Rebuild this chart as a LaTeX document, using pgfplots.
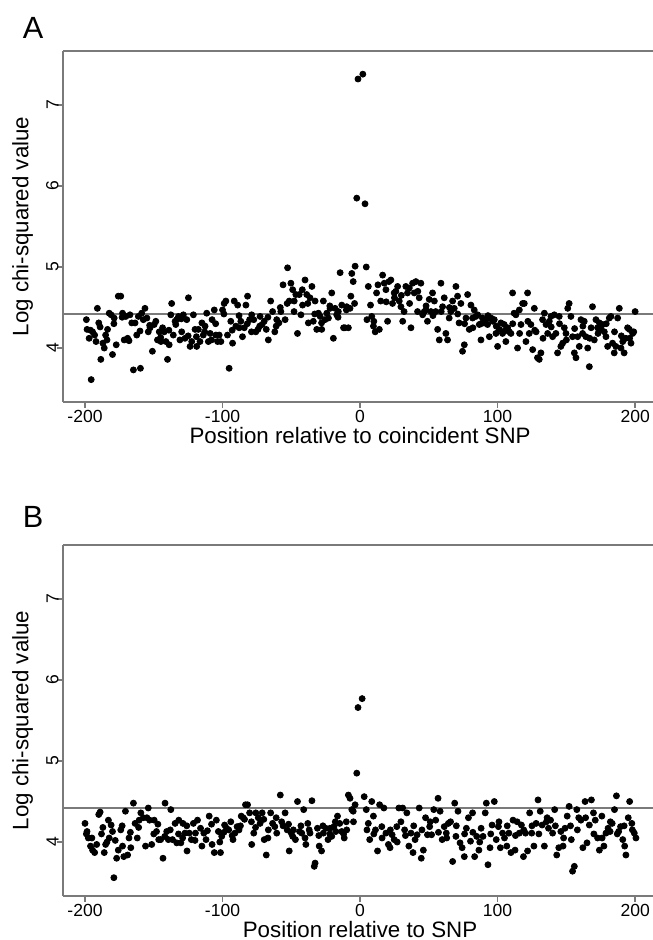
\documentclass[border=0pt]{standalone}
\usepackage{fontspec}
\setmainfont{Liberation Sans}
\usepackage{pgfplots}
\pgfplotsset{compat=1.18}

\definecolor{axgray}{HTML}{7A7A7A}

\pgfplotsset{
  panel/.style={
    anchor=south west,
    scale only axis,
    width=295bp, height=175.5bp,
    xmin=-216, xmax=213,
    ymin=3.334, ymax=7.666,
    axis x line=box, axis y line=left,
    axis line style={-, draw=axgray, line width=1bp},
    xtick={-200,-100,0,100,200},
    ytick={4,5,6,7},
    xtick pos=bottom, ytick pos=left,
    tick align=outside,
    major tick length=3bp,
    tick style={draw=axgray, line width=0.8bp},
    /pgf/number format/assume math mode=true,
    ticklabel style={font=\fontsize{8.8}{10}\selectfont},
    yticklabel style={xshift=2.5bp, rotate=90, anchor=south, inner sep=1.5bp},
    xticklabel style={inner sep=1bp},
    label style={font=\fontsize{11.2}{12}\selectfont},
    ylabel style={at={(axis description cs:-0.039,0.5)}, anchor=south, rotate=0},
    clip=true,
  },
  dots/.style={only marks, mark=*, mark size=1.5bp, draw=black, fill=black},
  refline/.style={no marks, draw=axgray, line width=1bp},
}

\begin{document}
\begin{tikzpicture}
\useasboundingbox (0,0) rectangle (326.5bp,470bp);

% panel A
\begin{axis}[panel, at={(31.5bp,269bp)},
  xlabel={Position relative to coincident SNP},
  ylabel={Log chi-squared value},
  xlabel style={at={(axis description cs:0.5035,0)}, anchor=north, yshift=-9bp}]
\addplot[refline] coordinates {(-216,4.42) (216,4.42)};
\addplot[dots] coordinates {
(-199,4.35) (-198.5,4.23) (-197,4.12) (-195.5,3.61) (-194.5,4.2) (-193,4.16) (-192,4.08) (-191,4.49) (-190,4.31) (-188.5,3.86)
(-187,4.06) (-186,4.0) (-185,4.16) (-183.6,4.23) (-182.4,4.43) (-181,4.41) (-180,3.92) (-178.8,4.37) (-177.3,4.04) (-175.8,4.64)
(-174,4.64) (-172.7,4.43) (-171.5,4.1) (-170.3,4.39) (-169,4.12) (-167.3,4.41) (-166,4.31) (-164.8,3.73) (-163.6,4.31) (-162.4,4.16)
(-161.2,4.39) (-159.7,3.75) (-158.8,4.43) (-157.6,4.35) (-156.4,4.49) (-155,4.37) (-154,4.2) (-152.7,4.25) (-151,3.96) (-149.7,4.29)
(-148.5,4.33) (-147.3,4.1) (-146,4.2) (-144.8,4.08) (-143.6,4.25) (-142.4,4.2) (-141.2,4.08) (-140,3.86) (-138.8,4.04) (-137.6,4.41)
(-137,4.55) (-135.8,4.16) (-134.5,4.33) (-133.3,4.35) (-132,4.39) (-131,4.1) (-129.7,4.2) (-128.5,4.41) (-127.3,4.12) (-126,4.35)
(-124.8,4.62) (-123.6,4.02) (-122.4,4.08) (-121.2,4.41) (-120,4.23) (-118.8,4.02) (-117.6,4.23) (-116.4,4.08) (-115,4.31) (-114,4.16)
(-112.7,4.27) (-111.5,4.43) (-110.3,4.08) (-109,4.18) (-107.6,4.35) (-106,4.47) (-104.8,4.16) (-103.6,4.08) (-102.4,4.16) (-101.2,4.08)
(-100,4.47) (-98.8,4.55) (-97.6,4.58) (-96.4,4.16) (-95.2,3.75) (-94,4.33) (-92.7,4.06) (-91.5,4.58) (-90.3,4.27) (-89,4.53)
(-87.9,4.25) (-86.7,4.33) (-85.5,4.14) (-84.2,4.25) (-83,4.53) (-81.8,4.64) (-80.3,4.35) (-78.8,4.41) (-77.3,4.35) (-75.8,4.2)
(-74.2,4.23) (-72.7,4.39) (-71.2,4.29) (-69.7,4.33) (-68.2,4.23) (-66.7,4.1) (-65,4.58) (-63.6,4.45) (-62,4.2) (-60.6,4.35)
(-59,4.31) (-57.6,4.45) (-56,4.78) (-54.5,4.35) (-52.7,4.99) (-51.5,4.58) (-50.3,4.8) (-49,4.72) (-47.9,4.58) (-46.7,4.66)
(-45.5,4.18) (-44.2,4.66) (-43,4.41) (-41.8,4.53) (-40,4.84) (-38.8,4.66) (-37.6,4.31) (-36.4,4.62) (-35,4.76) (-34,4.33)
(-32.7,4.58) (-31.5,4.23) (-30.3,4.43) (-29,4.39) (-27.9,4.23) (-26.7,4.58) (-25.5,4.35) (-24.2,4.43) (-23,4.37) (-21.8,4.49)
(-20.6,4.68) (-19.4,4.12) (-18.2,4.49) (-17,4.41) (-15.8,4.45) (-14.5,4.93) (-13.3,4.53) (-12,4.25) (-11,4.25) (-9.7,4.51)
(-8.5,4.25) (-7.3,4.49) (-6.7,4.64) (-6,4.92) (-5,4.82) (-3.6,5.01) (-2.4,5.85) (-1.5,7.32) (2,7.38) (3.6,5.78)
(4.5,5.0) (6,4.76) (7.6,4.53) (8.5,4.39) (9.7,4.27) (11,4.2) (12,4.68) (13,4.78) (14,4.23) (15,4.58)
(16.4,4.9) (17.6,4.8) (18.8,4.72) (20,4.33) (21,4.82) (22.4,4.84) (23.6,4.55) (24.8,4.68) (26,4.7) (27.3,4.76)
(28.5,4.58) (29.7,4.51) (31,4.33) (32,4.45) (33.3,4.76) (34.5,4.68) (35.8,4.74) (37,4.25) (38.2,4.8) (39.4,4.68)
(40.6,4.82) (41.8,4.45) (43,4.62) (44.2,4.8) (45.5,4.41) (46.7,4.45) (47.9,4.47) (49,4.33) (50.3,4.6) (51.5,4.45)
(52.7,4.68) (54,4.58) (55,4.45) (56.4,4.23) (57.6,4.1) (58.8,4.8) (60,4.51) (61.2,4.62) (62.4,4.18) (63.6,4.1)
(64.8,4.37) (66,4.45) (67.3,4.58) (68.5,4.49) (69.7,4.76) (70.9,4.64) (72,4.31) (73.3,4.55) (74.5,3.96) (75.8,4.04)
(77,4.37) (78.2,4.66) (79.4,4.23) (80.6,4.53) (81.8,4.37) (83,4.47) (84.2,4.39) (85.5,4.41) (86.7,4.29) (87.9,4.1)
(89,4.37) (90.3,4.31) (91.5,4.35) (92.7,4.29) (94,4.14) (95.2,4.37) (96.4,4.33) (97.6,4.35) (98.8,4.18) (100,4.02)
(101.2,4.23) (102.4,4.31) (103.6,4.18) (104.8,4.29) (106,4.08) (107.3,4.25) (108.5,4.2) (109.7,4.18) (110.9,4.68) (112,4.43)
(113.3,4.41) (114.5,4.0) (115.8,4.47) (117,4.29) (118.2,4.55) (119.4,4.55) (120.6,4.08) (121.8,4.68) (123,4.18) (124.2,4.29)
(125.5,3.98) (126.7,4.49) (128,4.2) (129,3.88) (130.3,3.86) (131.5,3.94) (132.7,4.35) (134,4.43) (135.2,4.29) (136.4,4.18)
(137.6,4.33) (138.8,4.39) (140,4.14) (141.2,4.41) (142.4,4.18) (143.6,3.94) (144.8,4.39) (146,4.02) (147.3,4.06) (148.5,4.25)
(149.7,4.18) (151,4.49) (152,4.55) (153.3,4.39) (154.5,4.14) (155.8,3.94) (157,3.88) (158.2,4.14) (159.4,4.02) (160.6,4.35)
(161.8,4.18) (163,4.33) (164.2,4.14) (165.5,4.0) (166.7,3.77) (168,4.25) (169,4.51) (170.3,4.1) (171.5,4.35) (172.7,4.25)
(174,4.31) (175.2,4.23) (176.4,4.29) (177.6,4.2) (178.8,4.14) (180,4.02) (181.2,4.37) (182.4,4.39) (183.6,4.06) (184.8,3.94)
(186,4.02) (187.3,4.37) (188.5,4.49) (189.7,4.0) (191,4.08) (192,3.94) (193.3,4.12) (194.5,4.25) (195.8,4.23) (197,4.06)
(198.2,4.18) (200,4.45)
(-196,4.22) (-189,4.26) (-184,4.1) (-179,4.3) (-173,4.38) (-168,4.09) (-160,4.21) (-153,4.28) (-145,4.13) (-139,4.22)
(-134,4.29) (-130,4.36) (-125,4.15) (-119,4.14) (-113,4.2) (-108,4.1) (-105,4.3) (-99,4.42) (-93,4.22) (-88,4.4)
(-82,4.3) (-79,4.2) (-73,4.27) (-67,4.38) (-61,4.27) (-58,4.5) (-53,4.55) (-48,4.45) (-42,4.72) (-38,4.55)
(-33,4.42) (-28,4.31) (-22,4.52) (-16,4.38) (-10,4.47) (-4,4.55) (5,4.35) (10,4.33) (19,4.57) (25,4.62)
(30,4.65) (36,4.55) (42,4.7) (48,4.52) (53,4.4) (59,4.45) (65,4.5) (71,4.42) (76,4.3) (82,4.25)
(88,4.3) (93,4.4) (99,4.27) (105,4.21) (111,4.3) (116,4.18) (122,4.33) (127,4.22) (133,4.12) (139,4.26)
(145,4.3) (150,4.1) (156,4.24) (162,4.27) (167,4.12) (173,4.18) (179,4.3) (185,4.2) (190,4.15) (196,4.12) (199,4.2)
};
\end{axis}

% panel B
\begin{axis}[panel, at={(31.5bp,22bp)},
  xlabel={Position relative to SNP},
  ylabel={Log chi-squared value},
  xlabel style={at={(axis description cs:0.5035,0)}, anchor=north, yshift=-9bp}]
\addplot[refline] coordinates {(-216,4.42) (216,4.42)};
\addplot[dots] coordinates {
(-200,4.23) (-198.5,4.13) (-197.6,4.05) (-196,3.95) (-194.5,3.9) (-193,3.87) (-191.5,3.97) (-190,4.34) (-189,4.37) (-188,4.1)
(-186,3.87) (-185,3.97) (-183,4.27) (-182.4,4.05) (-181,4.21) (-180,4.13) (-179,3.56) (-177,3.8) (-175.8,3.9) (-174,4.15)
(-172.7,3.95) (-171.8,3.82) (-170.6,4.38) (-169,3.84) (-168,4.05) (-166.7,3.93) (-164.8,4.48) (-163.6,4.23) (-162,4.05) (-160.6,4.27)
(-159.4,4.36) (-157.6,4.3) (-156,3.95) (-154,4.42) (-153,4.27) (-151.5,3.97) (-149.7,4.27) (-148,4.13) (-146.4,4.03) (-145,4.03)
(-143.3,3.8) (-141.8,4.48) (-140.6,4.13) (-139.4,4.03) (-137.6,4.4) (-136.4,4.03) (-134.5,4.23) (-133.3,3.99) (-131.8,4.27) (-130.3,3.99)
(-128.8,4.23) (-127.3,4.11) (-125.8,3.89) (-124.2,4.11) (-122.7,4.03) (-121.2,4.23) (-119.7,4.11) (-118.2,4.27) (-115,3.95) (-113.6,4.11)
(-112,4.03) (-109.7,4.32) (-107.6,3.97) (-106,3.87) (-104.5,4.27) (-103,4.13) (-101.5,3.87) (-100.6,4.07) (-98.5,4.21) (-97,4.17)
(-95.5,4.15) (-94,4.25) (-92.4,4.03) (-91,4.11) (-89.4,4.19) (-88,4.15) (-86.4,4.32) (-85,4.3) (-83.3,4.46) (-81.8,4.46)
(-80.3,4.36) (-78.8,3.97) (-77.3,4.11) (-75.8,4.36) (-74,4.3) (-72.7,4.23) (-71.2,4.36) (-69.7,4.03) (-68.2,3.84) (-66.7,4.15)
(-65,4.36) (-63.6,4.23) (-62,4.19) (-60.6,4.11) (-58,4.58) (-57,4.25) (-54.5,4.36) (-53,4.15) (-51.5,3.89) (-50,4.11)
(-48.5,4.15) (-47,4.03) (-45.5,4.5) (-44,4.13) (-42.4,4.11) (-41,4.4) (-39.4,3.97) (-38,4.23) (-36.4,4.11) (-35,4.51)
(-33.3,3.7) (-32.7,3.74) (-31,4.17) (-29.7,3.95) (-28,3.89) (-26.7,4.11) (-25,4.17) (-23.3,4.03) (-21.8,4.17) (-20.6,4.07)
(-19,4.19) (-17.6,4.13) (-16.4,4.32) (-14.8,4.23) (-13.3,4.13) (-11.5,4.05) (-9.7,4.15) (-8.5,4.58) (-7.3,4.54) (-6,4.4)
(-4.8,4.25) (-3.6,4.46) (-2.4,4.85) (-1.5,5.66) (1.5,5.77) (3,4.56) (4.5,4.4) (6,4.23) (7,4.03) (8.5,4.5)
(9.7,4.32) (11.2,4.15) (12.7,3.89) (14.2,4.46) (15.8,4.19) (17.3,4.42) (18.8,4.11) (20.6,3.97) (21.8,3.93) (23.3,4.09)
(24.8,4.03) (26.7,4.19) (28.2,4.42) (29.7,4.25) (31,4.42) (32.4,4.15) (34,4.36) (35.5,3.95) (37,4.11) (38.5,3.87)
(40,4.03) (41.5,4.09) (43,4.42) (44.5,3.8) (46,3.9) (47.6,4.3) (49,4.09) (50.6,4.19) (52,4.09) (53.6,4.4)
(55,4.27) (56.7,4.54) (58.2,4.38) (59.7,4.03) (61.2,4.19) (62.7,4.11) (64.2,4.23) (65.8,4.25) (67.3,3.76) (68.8,4.48)
(69.7,4.07) (71.2,4.38) (72.7,3.99) (74.2,3.93) (75.8,3.82) (77.3,4.17) (78.8,4.3) (80.3,4.01) (81.8,4.36) (83.3,3.82)
(84.8,4.07) (86.4,3.9) (88,4.17) (89.4,4.07) (91,4.36) (91.8,4.48) (93,3.72) (94.5,3.93) (96,4.21) (97.6,4.5)
(99,4.03) (100.6,4.19) (102,3.93) (103.6,4.11) (105,4.05) (106.7,3.95) (108.2,4.11) (109.7,3.87) (111.2,4.27) (112.7,3.9)
(114.2,4.25) (115.8,4.11) (117.3,4.21) (118.8,3.82) (120.3,4.11) (121.8,3.89) (123.3,4.36) (124.8,4.11) (126.4,3.95) (128,4.23)
(129.4,4.52) (131,4.38) (132.4,4.21) (134,3.95) (135.5,4.25) (137,4.17) (138.5,4.27) (140,4.11) (141.5,4.4) (143,3.84)
(144.5,3.93) (146,4.13) (147.6,3.95) (149,4.17) (150.6,4.32) (152,4.44) (153.6,4.03) (154.5,3.64) (155.8,3.7) (157.6,4.4)
(159,4.3) (160.6,4.27) (162,3.93) (163.6,4.5) (165,3.99) (166.7,4.21) (168.2,4.52) (169.7,4.36) (171,4.27) (172.7,4.05)
(174,3.9) (175.8,4.32) (177.3,3.95) (178.8,4.11) (180.3,4.17) (181.8,4.13) (183.3,4.23) (185,4.4) (186.4,4.57) (188,4.13)
(189.4,4.19) (191,4.03) (192.4,3.95) (193.3,3.84) (195,4.3) (196,4.5) (197.6,4.23) (199.4,4.11) (200.6,4.05)
(-199,4.1) (-195,4.05) (-187,4.18) (-184,4.0) (-178,4.02) (-173,4.2) (-167,4.12) (-161,4.18) (-155,4.3) (-150,4.1)
(-147,4.22) (-142,4.07) (-138,4.15) (-132,4.1) (-129,4.05) (-126,4.2) (-120,4.02) (-116,4.17) (-111,4.14) (-108,4.22)
(-102,4.0) (-99,4.12) (-93,4.08) (-87,4.2) (-84,4.28) (-79,4.25) (-76,4.18) (-70,4.28) (-67,4.05) (-61,4.3)
(-56,4.2) (-52,4.22) (-49,4.07) (-43,4.2) (-40,4.05) (-37,4.15) (-30,4.08) (-27,4.2) (-22,4.1) (-18,4.25)
(-12,4.1) (-10,4.25) (-5,4.38) (5,4.15) (10,4.1) (16,4.05) (22,4.15) (27,4.0) (33,4.08) (39,4.2)
(45,4.15) (51,4.25) (57,4.12) (63,4.05) (70,4.2) (76,4.1) (82,4.12) (87,4.0) (95,4.1) (101,4.25)
(107,4.2) (113,4.08) (119,4.15) (125,4.2) (130,4.1) (136,4.3) (142,4.2) (148,4.05) (153,4.2) (158,4.15)
(164,4.3) (170,4.1) (176,4.05) (182,4.25) (187,4.1) (192,4.2) (198,4.15)
};
\end{axis}

\node[font=\fontsize{15.4}{16}\selectfont, anchor=center] at (16.5bp,456bp) {A};
\node[font=\fontsize{15.4}{16}\selectfont, anchor=center] at (16.5bp,211.5bp) {B};
\end{tikzpicture}
\end{document}
